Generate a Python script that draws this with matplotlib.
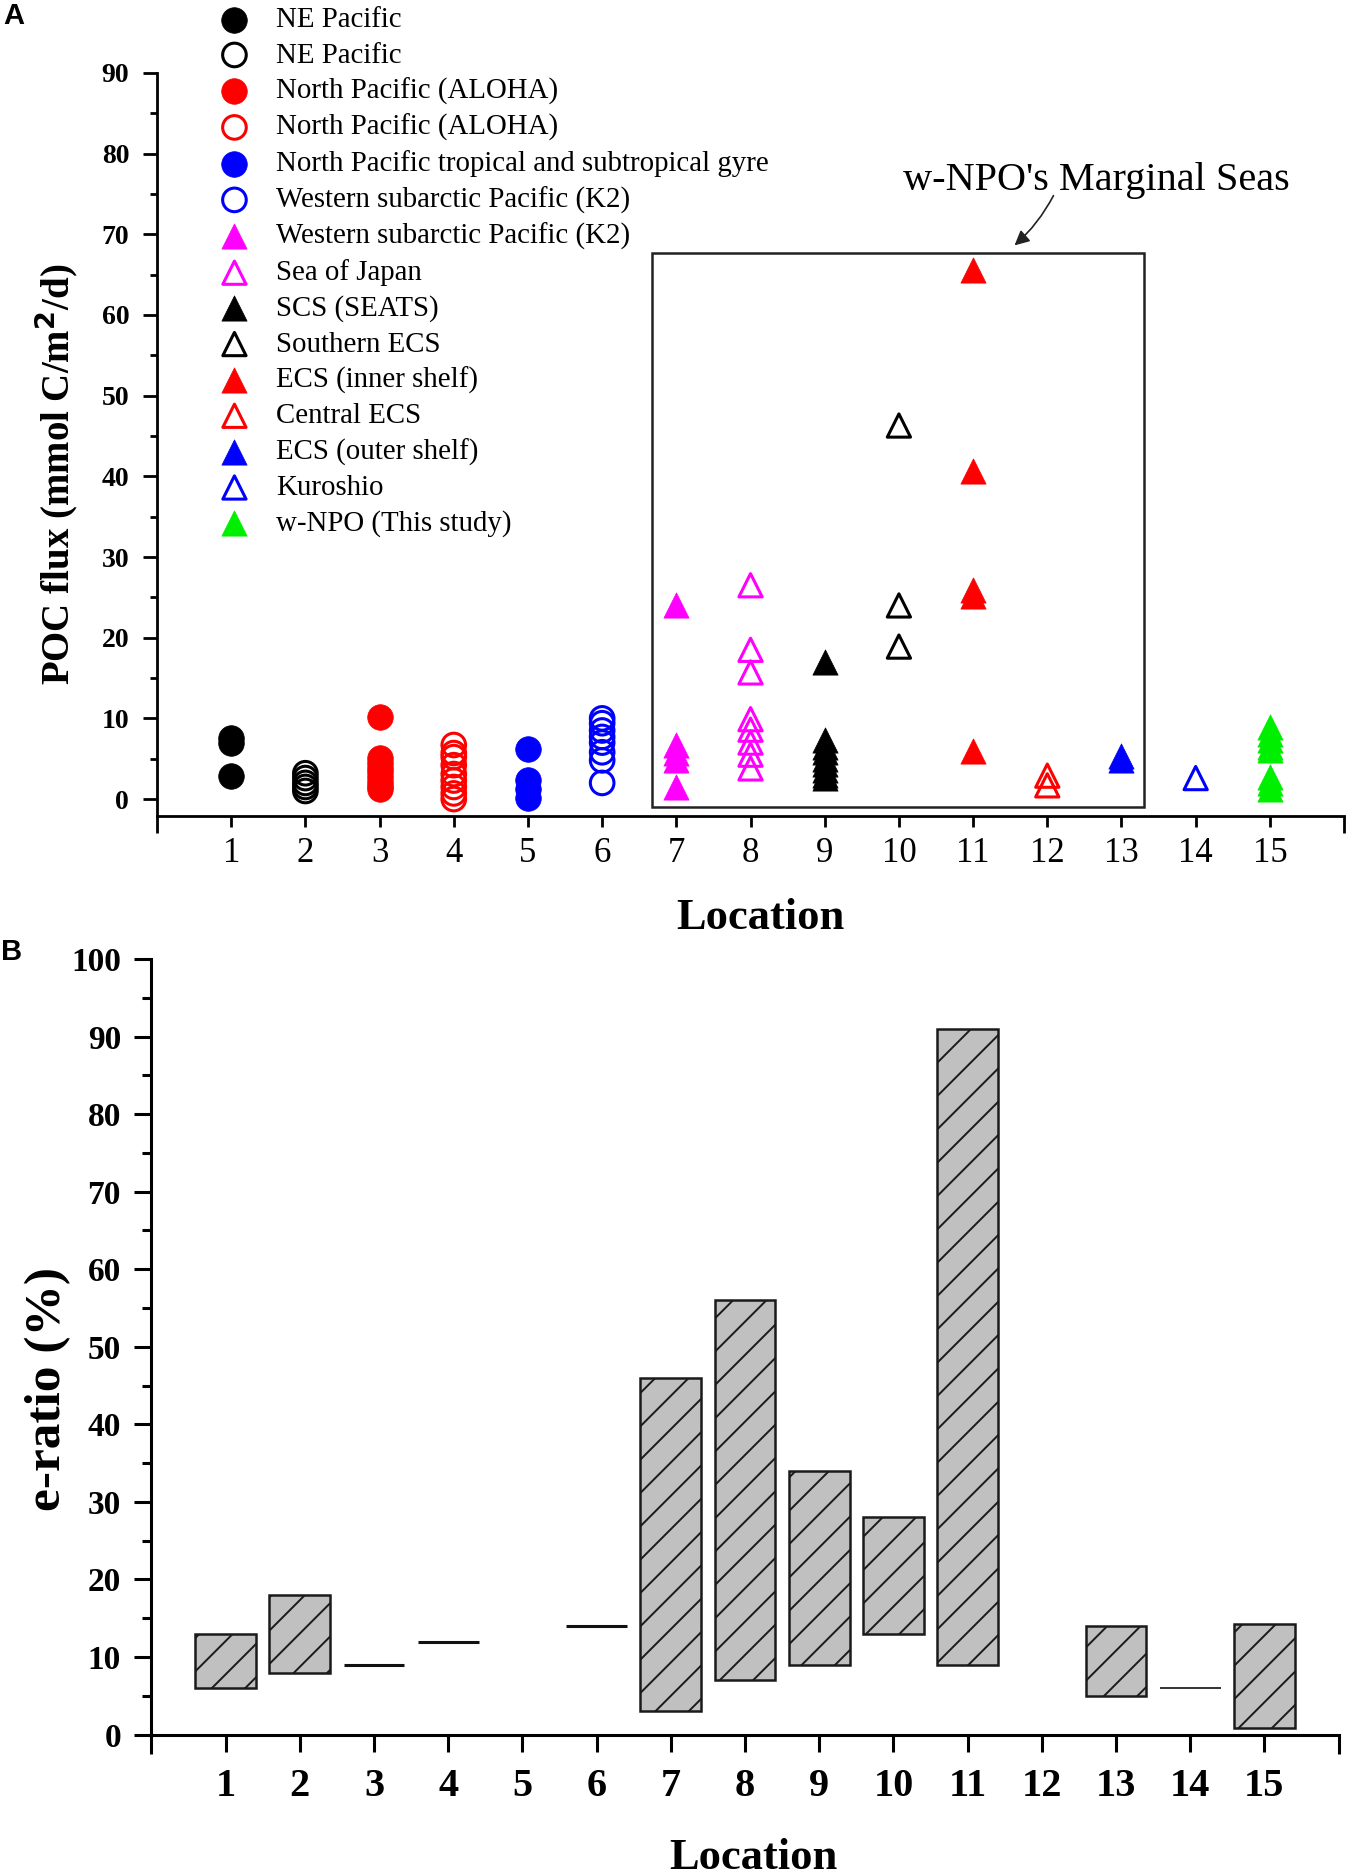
import numpy as np
import matplotlib
matplotlib.use("Agg")
import matplotlib.pyplot as plt
from matplotlib.patches import Rectangle

plt.rcParams['font.family'] = ['Liberation Serif', 'DejaVu Serif']
plt.rcParams['hatch.linewidth'] = 1.4
plt.rcParams['hatch.color'] = '#333333'

# ---- datos panel A: flujo de POC por localidad ----
locations = list(range(1, 16))
legend_labels = ["NE Pacific", "NE Pacific", "North Pacific (ALOHA)", "North Pacific (ALOHA)",
                 "North Pacific tropical and subtropical gyre", "Western subarctic Pacific (K2)",
                 "Western subarctic Pacific (K2)", "Sea of Japan", "SCS (SEATS)", "Southern ECS",
                 "ECS (inner shelf)", "Central ECS", "ECS (outer shelf)", "Kuroshio", "w-NPO (This study)"]

flux_1 = [7.6, 7.0, 2.8]
flux_2 = [3.2, 2.6, 2.0, 1.5, 1.0]
flux_3 = [10.2, 5.1, 4.5, 3.9, 3.3, 2.7, 2.1, 1.6, 1.2]
flux_4 = [6.7, 5.7, 5.2, 4.2, 3.1, 2.3, 1.5, 0.7, 0.0]
flux_5 = [6.2, 2.4, 1.2, 0.1]
flux_6 = [10.0, 9.4, 8.5, 7.7, 7.0, 5.8, 4.8, 2.0]
flux_7 = [24.0, 6.7, 5.7, 4.9, 1.5]
flux_8 = [26.5, 18.5, 15.7, 9.9, 8.6, 7.0, 5.5, 3.8]
flux_9 = [17.0, 7.3, 6.5, 5.8, 5.0, 4.3, 3.6, 3.0, 2.6]
flux_10 = [46.3, 24.0, 18.9]
flux_11 = [65.6, 40.7, 25.9, 25.2, 6.0]
flux_12 = [2.9, 1.7]
flux_13 = [5.3, 4.9]
flux_14 = [2.6]
flux_15 = [8.9, 8.1, 7.3, 6.5, 6.1, 2.7, 2.0, 1.3]
flux = [flux_1, flux_2, flux_3, flux_4, flux_5, flux_6, flux_7, flux_8,
        flux_9, flux_10, flux_11, flux_12, flux_13, flux_14, flux_15]

# ---- datos panel B: rango de e-ratio ----
ratio_low = [6, 8, 9, 12, np.nan, 14, 3, 7, 9, 13, 9, np.nan, 5, 6, 0.9]
ratio_high = [13, 18, 9, 12, np.nan, 14, 46, 56, 34, 28, 91, np.nan, 14, 6, 14.2]

# estilos
colores = ['black', 'black', 'red', 'red', 'blue', 'blue', 'magenta', 'magenta',
           'black', 'black', 'red', 'red', 'blue', 'blue', '#00ee00']
marcadores = ['o'] * 6 + ['^'] * 9
rellenos = [True, False, True, False, True, False, True, False,
            True, False, True, False, True, False, True]

fig = plt.figure(figsize=(13.5, 18.75), dpi=100)
axA = fig.add_axes([0.1163, 0.5648, 0.8793, 0.3963])
axB = fig.add_axes([0.1122, 0.0749, 0.8793, 0.4136])

handles = []
for i in range(15):
    xs = [locations[i]] * len(flux[i])
    tam = 340 if marcadores[i] == 'o' else 330
    if rellenos[i]:
        h = axA.scatter(xs, flux[i], s=tam, marker=marcadores[i], c=colores[i],
                        edgecolors=colores[i], linewidths=0.5, label=legend_labels[i], zorder=3)
    else:
        h = axA.scatter(xs, flux[i], s=tam * 0.85, marker=marcadores[i], facecolors='none',
                        edgecolors=colores[i], linewidths=2.2, label=legend_labels[i], zorder=3)
    handles.append(h)

axA.set_xlim(0, 16)
axA.set_ylim(-2.1, 90)
axA.spines['top'].set_visible(False)
axA.spines['right'].set_visible(False)
axA.spines['left'].set_linewidth(2.0)
axA.spines['bottom'].set_linewidth(2.0)
axA.set_yticks(np.arange(0, 91, 10))
axA.set_yticks(np.arange(5, 90, 10), minor=True)
axA.set_xticks([0, 16])
axA.set_xticklabels(['', ''])
axA.set_xticks(locations, minor=True)
axA.set_xticklabels([str(n) for n in locations], minor=True)
axA.tick_params(axis='y', which='major', length=10, width=2, pad=10, labelsize=20)
axA.tick_params(axis='y', which='minor', length=5, width=2)
axA.tick_params(axis='x', which='major', length=12, width=2)
axA.tick_params(axis='x', which='minor', length=8, width=2, pad=7, labelsize=25)
for t in axA.get_yticklabels():
    t.set_fontweight('bold')

axA.set_ylabel("POC flux (mmol C/m$^\\mathbf{2}$/d)", fontsize=28, fontweight='bold')
axA.yaxis.set_label_coords(-0.065, 0.46)
axA.set_xlabel("Location", fontsize=32, fontweight='bold')
axA.xaxis.set_label_coords(0.508, -0.110)

caja = Rectangle((6.67, -1.0), 13.30 - 6.67, 67.7 + 1.0, fill=False,
                 edgecolor='#222222', linewidth=1.8, zorder=2)
axA.add_patch(caja)
axA.text(12.66, 75.5, "w-NPO's Marginal Seas", fontsize=29, ha='center', va='baseline')
axA.annotate("", xy=(11.53, 68.4), xytext=(12.10, 75.1),
             arrowprops=dict(arrowstyle='-|>', color='#222222', lw=1.2,
                             mutation_scale=22, connectionstyle='arc3,rad=-0.1'))

fig.legend(handles=handles, loc='upper left', bbox_to_anchor=(220 / 1350, 1 - 7 / 1875),
           frameon=False, fontsize=20.8, labelspacing=0.315, handlelength=1.0,
           handletextpad=0.93, borderpad=0, borderaxespad=0, scatterpoints=1)

# ---- panel B ----
for i in range(15):
    lo = ratio_low[i]
    hi = ratio_high[i]
    if np.isnan(lo):
        continue
    if hi > lo:
        axB.bar(locations[i], hi - lo, bottom=lo, width=0.82, color='#c0c0c0',
                edgecolor='#1a1a1a', linewidth=1.8, hatch='/', zorder=2)
    else:
        grosor = 1.2 if locations[i] == 14 else 2.2
        axB.hlines(lo, locations[i] - 0.41, locations[i] + 0.41, colors='#111111',
                   linewidth=grosor, zorder=2)

axB.set_xlim(0, 16)
axB.set_ylim(0, 100)
axB.spines['top'].set_visible(False)
axB.spines['right'].set_visible(False)
axB.spines['left'].set_linewidth(2.2)
axB.spines['bottom'].set_linewidth(2.2)
axB.set_yticks(np.arange(0, 101, 10))
axB.set_yticks(np.arange(5, 100, 10), minor=True)
axB.set_xticks([0, 16])
axB.set_xticklabels(['', ''])
axB.set_xticks(locations, minor=True)
axB.set_xticklabels([str(n) for n in locations], minor=True)
axB.tick_params(axis='y', which='major', length=12, width=2.2, pad=10, labelsize=24)
axB.tick_params(axis='y', which='minor', length=6.5, width=2.2)
axB.tick_params(axis='x', which='major', length=14, width=2.2)
axB.tick_params(axis='x', which='minor', length=12, width=2.2, pad=12, labelsize=29)
for t in axB.get_yticklabels() + axB.get_xticklabels(minor=True):
    t.set_fontweight('bold')

axB.set_ylabel("e-ratio (%)", fontsize=37, fontweight='bold')
axB.yaxis.set_label_coords(-0.068, 0.445)
axB.set_xlabel("Location", fontsize=32, fontweight='bold')
axB.xaxis.set_label_coords(0.507, -0.134)

fig.text(14 / 1350, 1 - 16 / 1875, "A", fontsize=21, fontweight='bold',
         family='Liberation Sans', ha='center', va='center')
fig.text(12 / 1350, 1 - 952 / 1875, "B", fontsize=21, fontweight='bold',
         family='Liberation Sans', ha='center', va='center')

fig.savefig("out.png", dpi=100)
